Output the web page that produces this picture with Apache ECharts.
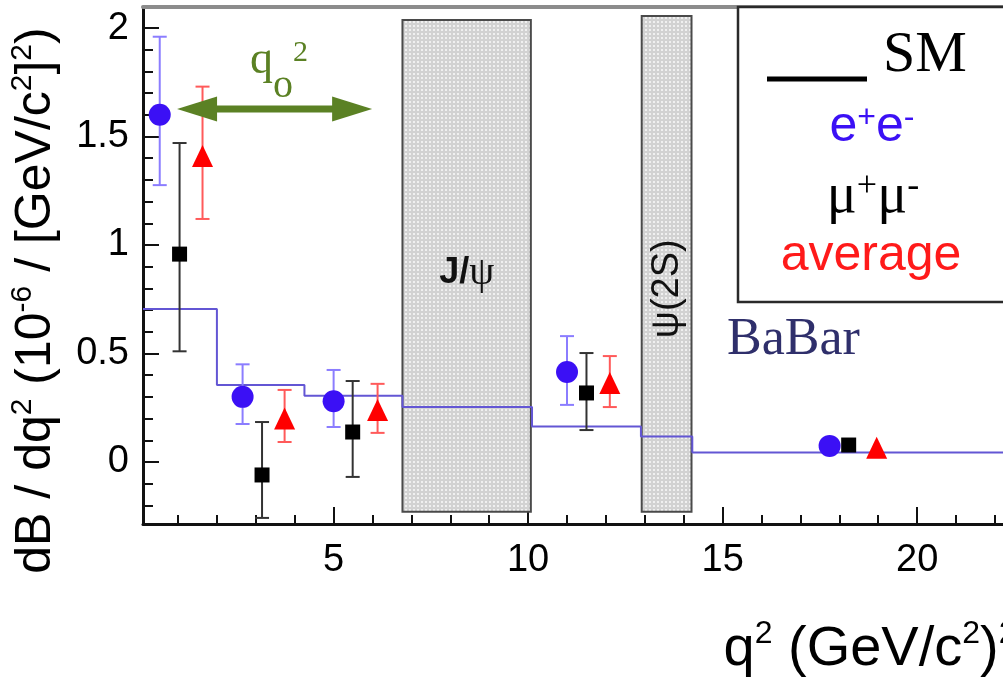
<!DOCTYPE html>
<html><head><meta charset="utf-8">
<script src="https://cdn.jsdelivr.net/npm/echarts@6/dist/echarts.min.js"></script>
<style>html,body{margin:0;padding:0;background:#fff}#c{width:1003px;height:677px}</style>
</head><body><div id="c"></div>
<script>
// ---------------- data ----------------
const xTickLabels = [5, 10, 15, 20];
const xMinorTicks = [1, 2, 3, 4, 6, 7, 8, 9, 11, 12, 13, 14, 16, 17, 18, 19, 21, 22];
const yTickLabels = [0, 0.5, 1, 1.5, 2];
const yMinorTicks = [-0.2, -0.1, 0.1, 0.2, 0.3, 0.4, 0.6, 0.7, 0.8, 0.9, 1.1, 1.2, 1.3, 1.4, 1.6, 1.7, 1.8, 1.9];

// Standard Model prediction (step function: bin start edges and values)
const smEdges = [0.1, 2.0, 4.25, 6.77, 10.1, 12.9, 14.22, 22.4];
const smValues = [0.705, 0.355, 0.305, 0.253, 0.163, 0.117, 0.044, 0.044];

// e+e-
const eeX = [0.53, 2.66, 5.0, 11.0, 17.75];
const eeY = [1.60, 0.30, 0.28, 0.415, 0.074];
const eeLo = [1.276, 0.175, 0.161, 0.263, null];
const eeHi = [1.96, 0.45, 0.424, 0.58, null];

// mu+mu-
const mmX = [1.04, 3.16, 5.49, 11.5, 18.24];
const mmY = [0.958, -0.06, 0.138, 0.318, 0.078];
const mmLo = [0.51, -0.258, -0.069, 0.147, null];
const mmHi = [1.47, 0.184, 0.373, 0.502, null];

// average
const avX = [1.63, 3.74, 6.13, 12.1, 18.96];
const avY = [1.41, 0.20, 0.24, 0.364, 0.065];
const avLo = [1.12, 0.092, 0.134, 0.253, null];
const avHi = [1.73, 0.332, 0.36, 0.488, null];

// charmonium veto regions
const vetoLabels = ['J/ψ', 'ψ(2S)'];
const vetoStart = [6.77, 12.92];
const vetoEnd = [10.07, 14.2];
const vetoLow = [-0.23, -0.23];
const vetoHigh = [2.037, 2.055];

// q0^2 double arrow
const arrowFrom = [0.976, 1.627];
const arrowTo = [5.99, 1.627];

// ---------------- chart ----------------
const X0 = 0.1, X1 = 22.4, Y0 = -0.286, Y1 = 2.097;
const SANS = 'Liberation Sans', SERIF = 'Liberation Serif';

const pc = document.createElement('canvas'); pc.width = 4; pc.height = 4;
const pg = pc.getContext('2d');
pg.fillStyle = '#d2d2d2'; pg.fillRect(0, 0, 4, 4);
pg.fillStyle = '#f0f0f0'; pg.fillRect(1, 1, 2, 2);
const pattern = { image: pc, repeat: 'repeat' };

function errSeries(xs, lo, hi, color) {
  const data = [];
  xs.forEach((x, i) => { if (lo[i] != null) data.push([x, lo[i], hi[i]]); });
  return {
    type: 'custom', z: 3, silent: true, data: data,
    encode: { x: 0, y: [1, 2] },
    renderItem: function (params, api) {
      const t = api.coord([api.value(0), api.value(2)]);
      const b = api.coord([api.value(0), api.value(1)]);
      const hw = 7, st = { stroke: color, lineWidth: 2 };
      return { type: 'group', children: [
        { type: 'line', shape: { x1: t[0], y1: t[1], x2: b[0], y2: b[1] }, style: st },
        { type: 'line', shape: { x1: t[0] - hw, y1: t[1], x2: t[0] + hw, y2: t[1] }, style: st },
        { type: 'line', shape: { x1: b[0] - hw, y1: b[1], x2: b[0] + hw, y2: b[1] }, style: st }
      ] };
    }
  };
}

const axisBase = (min, max) => ({ type: 'value', min: min, max: max, splitLine: { show: false } });

const option = {
  animation: false,
  backgroundColor: '#ffffff',
  grid: { left: 143, top: 7, right: -7.5, bottom: 153, containLabel: false, outerBoundsMode: 'none' },
  xAxis: [
    Object.assign(axisBase(X0, X1), {
      position: 'bottom',
      axisLine: { show: true, onZero: false, lineStyle: { color: '#111', width: 3 } },
      axisTick: { show: true, inside: true, length: 17, customValues: xTickLabels, lineStyle: { color: '#111', width: 2 } },
      axisLabel: { show: true, customValues: xTickLabels, fontSize: 38, color: '#000', fontFamily: SANS, margin: 18 },
      name: '{m|q}{s|2}{m| (GeV/c}{s|2}{m|)}{s|2}',
      nameLocation: 'end', nameGap: 6, nameMoveOverlap: false,
      nameTextStyle: {
        align: 'right', verticalAlign: 'top', padding: [94, 0, 0, 0],
        rich: {
          m: { fontSize: 56, lineHeight: 64, fontFamily: SANS, color: '#000' },
          s: { fontSize: 32, lineHeight: 34, verticalAlign: 'top', fontFamily: SANS, color: '#000' }
        }
      }
    }),
    Object.assign(axisBase(X0, X1), {
      position: 'bottom',
      axisLine: { show: false, onZero: false },
      axisTick: { show: true, inside: true, length: 9, customValues: xMinorTicks, lineStyle: { color: '#111', width: 2 } },
      axisLabel: { show: false }
    }),
    Object.assign(axisBase(X0, X1), {
      position: 'top',
      axisLine: { show: true, onZero: false, lineStyle: { color: '#8c8c8c', width: 4 } },
      axisTick: { show: false }, axisLabel: { show: false }
    })
  ],
  yAxis: [
    Object.assign(axisBase(Y0, Y1), {
      position: 'left',
      axisLine: { show: true, onZero: false, lineStyle: { color: '#111', width: 3 } },
      axisTick: { show: true, inside: true, length: 16, customValues: yTickLabels, lineStyle: { color: '#111', width: 2 } },
      axisLabel: { show: true, customValues: yTickLabels, fontSize: 38, color: '#000', fontFamily: SANS, margin: 14 },
      name: '{m|dB / dq}{s|2}{m| (10}{s|-6}{m| / [GeV/c}{s|2}{m|]}{s|2}{m|)}',
      nameLocation: 'middle', nameRotate: 90, nameGap: 79, nameMoveOverlap: false,
      nameTextStyle: {
        padding: [0, 70, 0, 0],
        rich: {
          m: { fontSize: 50, lineHeight: 56, fontFamily: SANS, color: '#000' },
          s: { fontSize: 30, lineHeight: 28, verticalAlign: 'top', fontFamily: SANS, color: '#000' }
        }
      }
    }),
    Object.assign(axisBase(Y0, Y1), {
      position: 'left',
      axisLine: { show: false, onZero: false },
      axisTick: { show: true, inside: true, length: 10, customValues: yMinorTicks, lineStyle: { color: '#111', width: 2 } },
      axisLabel: { show: false }
    })
  ],
  series: [
    {
      type: 'custom', z: 1, silent: true,
      data: vetoLabels.map((l, i) => [vetoStart[i], vetoEnd[i], vetoLow[i], vetoHigh[i]]),
      encode: { x: [0, 1], y: [2, 3] },
      renderItem: function (params, api) {
        const p1 = api.coord([api.value(0), api.value(3)]);
        const p2 = api.coord([api.value(1), api.value(2)]);
        const cx = (p1[0] + p2[0]) / 2;
        const idx = params.dataIndex;
        const label = vetoLabels[idx];
        let txt;
        if (idx === 0) {
          const cy = p1[1] + (p2[1] - p1[1]) * 0.515;
          txt = { type: 'text', x: cx, y: cy, z2: 5, style: {
            text: '{b|' + label.slice(0, 2) + '}{g|' + label.slice(2) + '}',
            align: 'center', verticalAlign: 'middle',
            rich: { b: { fontSize: 36, fontWeight: 'bold', fontFamily: SANS, fill: '#111' },
                    g: { fontSize: 40, fontFamily: SERIF, fill: '#111' } } } };
        } else {
          const cy = p1[1] + (p2[1] - p1[1]) * 0.55;
          txt = { type: 'text', x: cx + 1, y: cy, rotation: Math.PI / 2, z2: 5, style: {
            text: label, align: 'center', verticalAlign: 'middle',
            fontSize: 38, fontFamily: SANS, fill: '#111' } };
        }
        return { type: 'group', children: [
          { type: 'rect', shape: { x: p1[0], y: p1[1], width: p2[0] - p1[0], height: p2[1] - p1[1] },
            style: { fill: pattern, stroke: '#4a4a4a', lineWidth: 2 } },
          txt
        ] };
      }
    },
    {
      type: 'line', name: 'SM', step: 'end', z: 2, silent: true, showSymbol: false, symbol: 'none',
      data: smEdges.map((x, i) => [x, smValues[i]]),
      lineStyle: { color: '#6356d4', width: 2 }
    },
    errSeries(eeX, eeLo, eeHi, '#8b7dff'),
    errSeries(mmX, mmLo, mmHi, '#333333'),
    errSeries(avX, avLo, avHi, '#ff5a5a'),
    { type: 'scatter', name: 'e+e-', z: 5, silent: true, symbol: 'circle', symbolSize: 22,
      data: eeX.map((x, i) => [x, eeY[i]]), itemStyle: { color: '#3b10f5', opacity: 1 } },
    { type: 'scatter', name: 'mu+mu-', z: 5, silent: true, symbol: 'rect', symbolSize: 15,
      data: mmX.map((x, i) => [x, mmY[i]]), itemStyle: { color: '#000000', opacity: 1 } },
    { type: 'scatter', name: 'average', z: 5, silent: true, symbol: 'triangle', symbolSize: [21, 22],
      data: avX.map((x, i) => [x, avY[i]]), itemStyle: { color: '#ff0000', opacity: 1 } },
    {
      type: 'custom', z: 6, silent: true,
      data: [[arrowFrom[0], arrowFrom[1], arrowTo[0], arrowTo[1]]],
      encode: { x: [0, 2], y: [1, 3] },
      renderItem: function (params, api) {
        const a = api.coord([api.value(0), api.value(1)]);
        const b = api.coord([api.value(2), api.value(3)]);
        const hl = 40, hh = 12.5, col = '#5b8124';
        return { type: 'group', children: [
          { type: 'line', shape: { x1: a[0] + hl - 2, y1: a[1], x2: b[0] - hl + 2, y2: b[1] }, style: { stroke: col, lineWidth: 7 } },
          { type: 'polygon', shape: { points: [[a[0], a[1]], [a[0] + hl, a[1] - hh], [a[0] + hl, a[1] + hh]] }, style: { fill: col } },
          { type: 'polygon', shape: { points: [[b[0], b[1]], [b[0] - hl, b[1] - hh], [b[0] - hl, b[1] + hh]] }, style: { fill: col } }
        ] };
      }
    }
  ],
  graphic: [
    { type: 'rect', z: 100, shape: { x: 738, y: 7, width: 290, height: 295 },
      style: { fill: '#ffffff', stroke: '#2a2a2a', lineWidth: 2.5 } },
    { type: 'line', z: 101, shape: { x1: 767, y1: 79, x2: 867, y2: 79 }, style: { stroke: '#000', lineWidth: 5 } },
    { type: 'text', z: 101, x: 883, y: 56, style: { text: 'SM', fontSize: 58, fontFamily: SERIF, fill: '#000', align: 'left', verticalAlign: 'middle' } },
    { type: 'text', z: 101, x: 872, y: 127, style: { text: '{m|e}{s|+}{m|e}{s|-}', align: 'center', verticalAlign: 'middle',
      rich: { m: { fontSize: 50, lineHeight: 50, fontFamily: SANS, fill: '#3b10f5' },
              s: { fontSize: 32, lineHeight: 32, verticalAlign: 'top', fontFamily: SANS, fill: '#3b10f5' } } } },
    { type: 'text', z: 101, x: 873, y: 197, style: { text: '{m|μ}{s|+}{m|μ}{s|-}', align: 'center', verticalAlign: 'middle',
      rich: { m: { fontSize: 56, lineHeight: 56, fontFamily: SERIF, fill: '#000' },
              s: { fontSize: 36, lineHeight: 36, verticalAlign: 'top', fontFamily: SERIF, fill: '#000' } } } },
    { type: 'text', z: 101, x: 871, y: 256, style: { text: 'average', fontSize: 50, fontFamily: SANS, fill: '#ff1a1a', align: 'center', verticalAlign: 'middle' } },
    { type: 'text', z: 101, x: 727, y: 340, style: { text: 'BaBar', fontSize: 52, fontFamily: SERIF, fill: '#2f2f6b', align: 'left', verticalAlign: 'middle' } },
    { type: 'text', z: 101, x: 250, y: 61, style: { text: '{q|q}{o|o}{t|2}', align: 'left', verticalAlign: 'middle',
      rich: { q: { fontSize: 46, lineHeight: 90, fontFamily: SERIF, fill: '#5b8124' },
              o: { fontSize: 40, lineHeight: 55, verticalAlign: 'bottom', fontFamily: SERIF, fill: '#5b8124' },
              t: { fontSize: 30, lineHeight: 30, padding: [22, 0, 0, 0], verticalAlign: 'top', fontFamily: SERIF, fill: '#5b8124' } } } }
  ]
};

const chart = echarts.init(document.getElementById('c'), null, { renderer: 'canvas', width: 1003, height: 677 });
chart.setOption(option);
</script>
</body></html>
